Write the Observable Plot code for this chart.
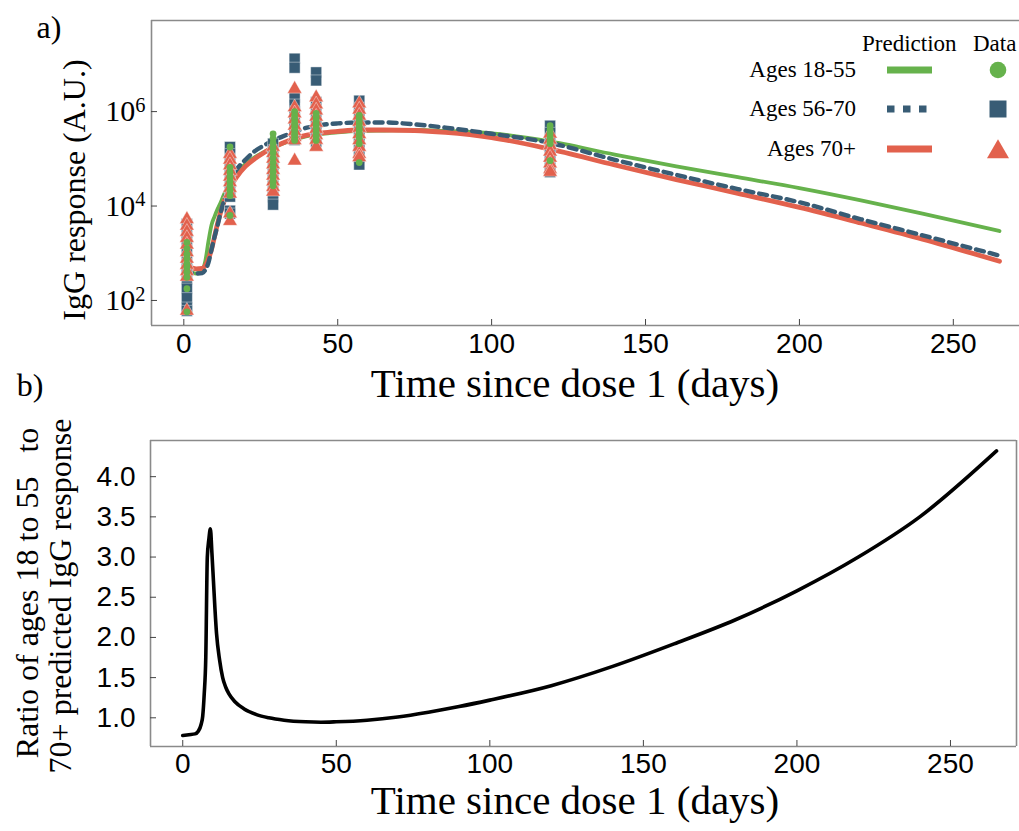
<!DOCTYPE html>
<html><head><meta charset="utf-8">
<script src="https://cdn.jsdelivr.net/npm/d3@7"></script>
<script src="https://cdn.jsdelivr.net/npm/@observablehq/plot@0.6"></script>
<style>
body{margin:0;background:#fff;}
#wrap{position:relative;width:1019px;height:831px;overflow:hidden;background:#fff;}
#wrap svg.pa,#wrap svg.pb,#wrap svg.leg{position:absolute;left:0;}
.lbl{position:absolute;white-space:pre;font-family:"Liberation Serif",serif;color:#000;line-height:1;}
svg.pa g[aria-label="y-axis tick label"]{font-family:"Liberation Serif",serif;font-size:30px;}
svg.pa g[aria-label="x-axis tick label"],svg.pb g[aria-label="x-axis tick label"],svg.pb g[aria-label="y-axis tick label"]{font-family:"Liberation Sans",Arial,sans-serif;font-size:28px;}
svg.pa g[aria-label="x-axis tick"],svg.pa g[aria-label="y-axis tick"],svg.pb g[aria-label="x-axis tick"],svg.pb g[aria-label="y-axis tick"]{color:#444;}
</style>
</head><body>
<div id="wrap"></div>
<script>
// ---------------- data ----------------
const xTicks = [0, 50, 100, 150, 200, 250];
const yTicksA = [1e2, 1e4, 1e6];
const yTicksB = [1.0, 1.5, 2.0, 2.5, 3.0, 3.5, 4.0];
const groups = ["Ages 18-55", "Ages 56-70", "Ages 70+"];

// model predictions (log10 of IgG response, A.U.)
const predDays = [0,2,4,6,7,8,9,10,11,12,13,14,15,17,20,23,26,29,32,36,40,45,50,57,65,75,85,100,118,140,160,180,200,220,240,265];
const predLog1855 = [2.61,2.60,2.57,2.65,2.84,3.25,3.60,3.78,3.94,4.08,4.24,4.36,4.49,4.68,4.89,5.03,5.14,5.24,5.32,5.41,5.48,5.53,5.56,5.59,5.60,5.61,5.59,5.54,5.38,5.09,4.84,4.61,4.38,4.12,3.84,3.47];
const predLog5670 = [2.60,2.58,2.57,2.58,2.65,2.80,3.08,3.35,3.60,3.87,4.10,4.30,4.52,4.76,4.98,5.16,5.28,5.39,5.47,5.57,5.66,5.72,5.75,5.77,5.77,5.73,5.66,5.53,5.35,4.98,4.66,4.36,4.08,3.72,3.38,2.95];
const predLog70 = [2.71,2.70,2.67,2.68,2.74,2.88,3.08,3.36,3.64,3.88,4.08,4.24,4.38,4.60,4.84,5.00,5.13,5.24,5.33,5.43,5.50,5.55,5.58,5.61,5.61,5.60,5.56,5.45,5.22,4.87,4.56,4.27,3.97,3.64,3.30,2.83];

// measured data (log10 of IgG response), one list per sampling day
const dataDays = [1, 15, 29, 36, 43, 57, 119];
const dataLog1855 = [
  [3.23,3.10,2.98,2.89,2.78,2.70,2.60,2.49,2.25,1.76],
  [5.25,4.82,4.72,4.62,4.52,4.42,4.33,4.22,3.80],
  [5.53,5.43,5.33,5.23,5.13,5.02,4.92,4.82,4.72,4.62,4.52,4.43],
  [6.00,5.92,5.84,5.76,5.68,5.60,5.52,5.45,5.39],
  [5.96,5.88,5.80,5.72,5.64,5.56,5.48,5.39],
  [5.92,5.84,5.76,5.68,5.60,5.52,5.44,5.32,4.92],
  [5.70,5.62,5.54,5.46,5.38,5.32,4.96]
];
const dataLog5670 = [
  [3.62,3.45,3.25,3.05,2.85,2.65,2.45,2.25,2.05,1.85,1.78],
  [5.25,5.10,4.95,4.80,4.65,4.50,4.35,4.20,3.90,3.84],
  [5.32,5.18,5.02,4.88,4.72,4.58,4.42,4.28,4.19,4.03],
  [7.12,6.93,6.30,6.15,6.00,5.85,5.70,5.55,5.40],
  [6.83,6.66,6.20,6.05,5.90,5.75,5.60,5.45,5.36],
  [6.23,6.08,5.93,5.78,5.63,5.48,5.33,5.18,5.03,4.88],
  [5.70,5.55,5.40,5.25,5.10,4.95,4.80,4.72]
];
const dataLog70 = [
  [3.72,3.58,3.45,3.32,3.18,3.02,2.88,2.75,2.62,2.50,1.78],
  [5.10,4.98,4.86,4.74,4.62,4.50,4.38,4.26,3.84,3.68],
  [5.25,5.12,5.00,4.88,4.76,4.64,4.52,4.40,4.30],
  [6.48,6.09,5.96,5.83,5.70,5.58,5.46,5.39,4.96],
  [6.30,6.15,6.02,5.89,5.76,5.63,5.50,5.40,5.25],
  [6.17,6.04,5.91,5.78,5.65,5.52,5.39,5.25,5.10,5.03],
  [5.53,5.40,5.28,5.15,5.02,4.90,4.78,4.72]
];

// ratio of ages 18-55 to 70+ predicted response
const ratioDays = [0,2,4,5,6,6.5,7,7.5,8,8.5,9,9.5,10,10.5,11,12,13,14,15,17,20,24,28,33,40,45,50,60,70,80,90,100,120,140,160,180,200,220,240,265];
const ratioValues = [0.78,0.79,0.80,0.83,0.92,1.02,1.30,1.75,3.00,3.22,3.35,3.05,2.70,2.35,2.05,1.72,1.50,1.38,1.30,1.20,1.11,1.04,1.00,0.97,0.95,0.945,0.95,0.97,1.01,1.07,1.14,1.22,1.40,1.64,1.92,2.22,2.58,3.00,3.50,4.32];

// ---------------- styling ----------------
const colors = {"Ages 18-55": "#66b24c", "Ages 56-70": "#385c75", "Ages 70+": "#e2614d"};
const frameColor = "#8a8a8a";
const xDomain = [-10.5, 271.5];
const yDomainA = [29.5, 8.5e7];
const yDomainB = [0.643, 4.45];

// ---------------- tables ----------------
const predTable = (logs, g) => predDays.map((d, i) => ({day: d, igg: 10 ** logs[i], group: g}));
const pred1855 = predTable(predLog1855, groups[0]);
const pred5670 = predTable(predLog5670, groups[1]);
const pred70 = predTable(predLog70, groups[2]);
const dataTable = (cols, g) => cols.flatMap((col, j) => col.map(v => ({day: dataDays[j], igg: 10 ** v, group: g})));
const pts1855 = dataTable(dataLog1855, groups[0]);
const pts5670 = dataTable(dataLog5670, groups[1]);
const pts70 = dataTable(dataLog70, groups[2]);
const ratioTable = ratioDays.map((d, i) => ({day: d, ratio: ratioValues[i]}));

const wrap = document.getElementById("wrap");

// ---------------- panel a ----------------
const pa = Plot.plot({
  className: "pa",
  width: 1019, height: 360,
  marginLeft: 151, marginRight: 0, marginTop: 20, marginBottom: 35,
  x: {domain: xDomain},
  y: {type: "log", domain: yDomainA},
  marks: [
    Plot.ruleX([xDomain[0]], {stroke: frameColor, strokeWidth: 1.6}),
    Plot.ruleY([yDomainA[0], yDomainA[1]], {stroke: frameColor, strokeWidth: 1.6}),
    Plot.axisX(xTicks, {tickSize: -6, tickPadding: 14, label: null}),
    Plot.axisY(yTicksA, {tickSize: -6, tickPadding: 12, label: null, tickFormat: d => String(Math.round(Math.log10(d)))}),
    Plot.line(pred1855, {x: "day", y: "igg", stroke: colors[groups[0]], strokeWidth: 3.8, curve: "monotone-x"}),
    Plot.line(pred70, {x: "day", y: "igg", stroke: colors[groups[2]], strokeWidth: 4.8, curve: "monotone-x"}),
    Plot.line(pred5670, {x: "day", y: "igg", stroke: colors[groups[1]], strokeWidth: 4.4, strokeDasharray: "8,6", curve: "monotone-x"}),
    Plot.dot(pts5670, {x: "day", y: "igg", symbol: "square", r: 6.2, fill: colors[groups[1]], stroke: "#ffffff", strokeWidth: 0.6, strokeOpacity: 0.7}),
    Plot.dot(pts70, {x: "day", y: "igg", symbol: "triangle", r: 5.4, fill: colors[groups[2]], stroke: "#ffffff", strokeWidth: 0.6, strokeOpacity: 0.7}),
    Plot.dot(pts1855, {x: "day", y: "igg", symbol: "circle", r: 3.4, fill: colors[groups[0]], stroke: "none"})
  ]
});
pa.style.top = "0px";
wrap.appendChild(pa);

// superscript exponents on the log axis
d3.select(pa).selectAll('g[aria-label="y-axis tick label"] text').each(function () {
  const e = this.textContent;
  const t = d3.select(this);
  t.text("10");
  t.append("tspan").attr("dy", "-0.45em").attr("font-size", "0.68em").text(e);
});

// ---------------- panel b ----------------
const pb = Plot.plot({
  className: "pb",
  width: 1019, height: 350,
  marginLeft: 150, marginRight: 3, marginTop: 10, marginBottom: 34,
  x: {domain: xDomain},
  y: {domain: yDomainB},
  marks: [
    Plot.ruleX([xDomain[0], xDomain[1]], {stroke: frameColor, strokeWidth: 1.6}),
    Plot.ruleY([yDomainB[0], yDomainB[1]], {stroke: frameColor, strokeWidth: 1.6}),
    Plot.axisX(xTicks, {tickSize: -6, tickPadding: 13, label: null}),
    Plot.axisY(yTicksB, {tickSize: -6, tickPadding: 21, label: null, tickFormat: d => d.toFixed(1)}),
    Plot.line(ratioTable, {x: "day", y: "ratio", stroke: "#000", strokeWidth: 3.6, curve: "monotone-x"})
  ]
});
pb.style.top = "430px";
wrap.appendChild(pb);

// ---------------- legend (panel a) ----------------
const leg = d3.select(wrap).append("svg").attr("class", "leg").attr("width", 1019).attr("height", 175).style("top", "0px")
  .attr("font-family", "Liberation Serif, serif").attr("font-size", 23);
leg.append("text").attr("x", 862).attr("y", 51).text("Prediction");
leg.append("text").attr("x", 973).attr("y", 51).text("Data");
const rowY = [70, 109, 149];
const sym = [d3.symbolCircle, d3.symbolSquare, d3.symbolTriangle];
const symSize = [Math.PI * 8.3 * 8.3, 17 * 17, 210];
groups.forEach((g, i) => {
  leg.append("text").attr("x", 856).attr("y", rowY[i] + 7).attr("text-anchor", "end").text(g);
  leg.append("line").attr("x1", 887).attr("x2", 932).attr("y1", rowY[i]).attr("y2", rowY[i])
    .attr("stroke", colors[g]).attr("stroke-width", 7)
    .attr("stroke-dasharray", i === 1 ? "7.5,8.5" : null);
  leg.append("path").attr("d", d3.symbol(sym[i], symSize[i])()).attr("transform", `translate(998,${rowY[i] + (i === 2 ? 3 : 0)})`)
    .attr("fill", colors[g]);
});

// ---------------- labels ----------------
function label(text, x, y, size, rotate) {
  const d = document.createElement("div");
  d.className = "lbl";
  d.textContent = text;
  d.style.left = x + "px";
  d.style.top = y + "px";
  d.style.fontSize = size + "px";
  d.style.transform = `translate(-50%,-50%)${rotate ? " rotate(-90deg)" : ""}`;
  wrap.appendChild(d);
  return d;
}
label("a)", 49, 27, 32);
label("IgG response (A.U.)", 74, 190, 32, true);
label("Time since dose 1 (days)", 575, 383, 41);
label("b)", 30, 385, 32);
label("Ratio of ages 18 to 55   to", 27, 593, 32, true);
label("70+ predicted IgG response", 60, 596, 32, true);
label("Time since dose 1 (days)", 575, 800, 41);
</script>
</body></html>
